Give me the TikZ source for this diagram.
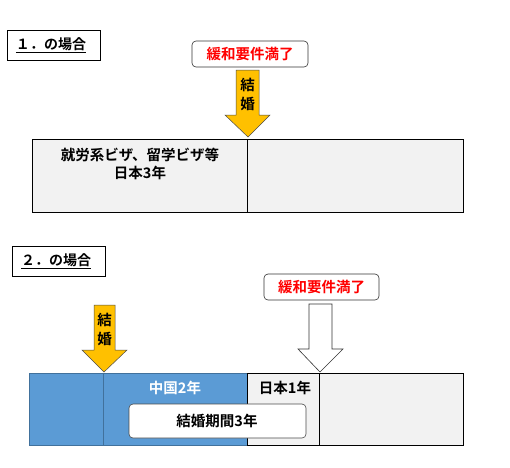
\documentclass[tikz,border=0pt]{standalone}
\usepackage{fontspec}
\setmainfont{Noto Sans CJK JP}[BoldFont={Noto Sans CJK JP Bold}]
\definecolor{arrowyellow}{HTML}{FFC000}
\definecolor{barblue}{HTML}{5B9BD5}
\definecolor{barblueline}{HTML}{41719C}
\definecolor{bargray}{HTML}{F2F2F2}
\begin{document}
\begin{tikzpicture}[x=1pt,y=-1pt,
  titlebox/.style={draw=black,fill=white,line width=0.8pt},
  condbox/.style={draw=black!80,fill=white,rounded corners=4pt,line width=0.6pt},
  graycell/.style={draw=black,fill=bargray,line width=0.8pt},
  bluecell/.style={draw=barblueline,fill=barblue,line width=0.8pt},
  yarrow/.style={draw=black!70,fill=arrowyellow,line width=0.5pt},
  warrow/.style={draw=black!80,fill=white,line width=0.6pt},
  txt/.style={font=\fontsize{14.5}{16}\selectfont\bfseries,inner sep=0pt},
  redtxt/.style={txt,text=red}]
\useasboundingbox (0,0) rectangle (510,467);
\fill[white] (0,0) rectangle (510,467);

% ---------- Case 1 ----------
\draw[titlebox] (7,30) rectangle (100,60);
\node[txt,font=\fontsize{14}{16}\selectfont\bfseries] (t1) at (51,45) {\underline{１．の場合}};

\draw[condbox] (192,41) rectangle (308,67);
\node[redtxt] (c1) at (250,54) {緩和要件満了};

\draw[yarrow] (236,70) -- (259,70) -- (259,115) -- (270,115) -- (248,137)
  -- (225,115) -- (236,115) -- cycle;
\node[txt] (m1a) at (247.5,85) {結};
\node[txt] (m1b) at (247.5,104) {婚};

\draw[graycell] (32,139) rectangle (247,212);
\draw[graycell] (247,139) rectangle (463,212);
\node[txt] (v1) at (140,155) {就労系ビザ、留学ビザ等};
\node[txt] (j1) at (140,173) {日本3年};

% ---------- Case 2 ----------
\draw[titlebox] (12,246) rectangle (105,276);
\node[txt,font=\fontsize{14}{16}\selectfont\bfseries] (t2) at (56,261) {\underline{２．の場合}};

\draw[condbox] (264,274) rectangle (379,300);
\node[redtxt] (c2) at (321.5,287) {緩和要件満了};

\draw[warrow] (309,304) -- (332,304) -- (332,349) -- (343,349) -- (320,372)
  -- (298,349) -- (309,349) -- cycle;

\draw[bluecell] (29,373) rectangle (103,445);
\draw[bluecell] (103,373) rectangle (247,445);
\draw[graycell] (247,373) rectangle (319,445);
\draw[graycell] (319,373) rectangle (463,445);

\draw[yarrow] (94,305) -- (115,305) -- (115,350) -- (127,350) -- (104,372)
  -- (82,350) -- (94,350) -- cycle;
\node[txt] (m2a) at (104.5,320) {結};
\node[txt] (m2b) at (104.5,339) {婚};

\node[txt,text=white] (cn) at (175,388) {中国2年};
\node[txt] (jp) at (285,388) {日本1年};

\draw[condbox,draw=black!70] (129,404) rectangle (306,438);
\node[txt] (mp) at (217,421) {結婚期間3年};
\end{tikzpicture}
\end{document}
